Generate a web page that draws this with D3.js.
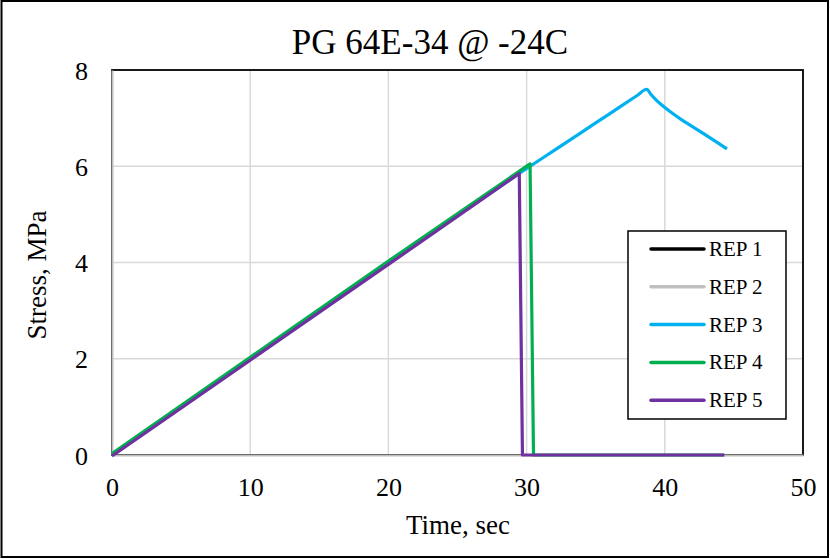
<!DOCTYPE html>
<html>
<head>
<meta charset="utf-8">
<script src="https://cdn.jsdelivr.net/npm/d3@7"></script>
<style>
  html, body { margin: 0; padding: 0; background: #fff; }
  svg { display: block; }
  text { font-family: "Liberation Serif", "Times New Roman", serif; fill: #000; }
</style>
</head>
<body>
<svg id="chart" width="830" height="559"></svg>
<script>
// ---- Data ----
const title = "PG 64E-34 @ -24C";
const xLabel = "Time, sec";
const yLabel = "Stress, MPa";
const xTicks = [0, 10, 20, 30, 40, 50];
const yTicks = [0, 2, 4, 6, 8];
const seriesNames = ["REP 1", "REP 2", "REP 3", "REP 4", "REP 5"];
const seriesColors = ["#000000", "#bfbfbf", "#00b0f0", "#00b050", "#7030a0"];

const rep1 = [];
const rep2 = [];
const rep3 = [[0, 0], [5, 0.99], [10, 1.99], [15, 2.98], [20, 3.98], [25, 4.97], [30.2, 5.99],
  [32, 6.33], [34, 6.71], [36, 7.09], [38, 7.47], [38.7, 7.6],
  [39.0, 7.49], [39.4, 7.37], [40.0, 7.22], [40.6, 7.09], [41.2, 6.97], [41.8, 6.86],
  [42.4, 6.75], [43.0, 6.64], [43.7, 6.51], [44.5, 6.36]];
const rep4 = [[0, 0.03], [10, 2.03], [20, 4.03], [30.25, 6.05], [30.5, 0], [44.3, 0]];
const rep5 = [[0, -0.02], [10, 1.97], [20, 3.96], [29.47, 5.85], [29.7, 0], [44.3, 0]];
const seriesData = [rep1, rep2, rep3, rep4, rep5];

// ---- Layout ----
const svg = d3.select("#chart");
const plot = { left: 112, right: 803, top: 70, bottom: 455 };

const x = d3.scaleLinear().domain([0, 50]).range([plot.left, plot.right]);
const y = d3.scaleLinear().domain([0, 8]).range([plot.bottom, plot.top]);

// outer border
svg.append("rect").attr("x", 1.5).attr("y", 1).attr("width", 826.5).attr("height", 556)
  .attr("fill", "#fff").attr("stroke", "#000").attr("stroke-width", 2);

// gridlines
svg.append("g").selectAll("line").data(xTicks.slice(1, -1)).join("line")
  .attr("x1", d => x(d)).attr("x2", d => x(d))
  .attr("y1", plot.top).attr("y2", plot.bottom)
  .attr("stroke", "#d9d9d9").attr("stroke-width", 1.5);
svg.append("g").selectAll("line").data(yTicks.slice(1, -1)).join("line")
  .attr("x1", plot.left).attr("x2", plot.right)
  .attr("y1", d => y(d)).attr("y2", d => y(d))
  .attr("stroke", "#d9d9d9").attr("stroke-width", 1.5);

// plot border
svg.append("rect").attr("x", plot.left).attr("y", plot.top)
  .attr("width", plot.right - plot.left).attr("height", plot.bottom - plot.top)
  .attr("fill", "none").attr("stroke", "#000").attr("stroke-width", 1.8);

// axes
const xAxis = svg.append("g").attr("transform", `translate(0,${plot.bottom})`)
  .call(d3.axisBottom(x).tickValues(xTicks).tickSize(0).tickPadding(0).tickFormat(d3.format("d")));
xAxis.select(".domain").attr("stroke", "#bfbfbf").attr("stroke-width", 2);
xAxis.selectAll("text").attr("font-size", 26).attr("dy", null).attr("y", 41)
  .style("font-family", '"Liberation Serif", serif');

const yAxis = svg.append("g").attr("transform", `translate(${plot.left},0)`)
  .call(d3.axisLeft(y).tickValues(yTicks).tickSize(0).tickPadding(0).tickFormat(d3.format("d")));
yAxis.select(".domain").attr("stroke", "#bfbfbf").attr("stroke-width", 2);
yAxis.selectAll("text").attr("font-size", 26).attr("x", -24).attr("dy", "0.35em")
  .style("font-family", '"Liberation Serif", serif');

// series
const lineStraight = d3.line().x(d => x(d[0])).y(d => y(d[1]));
const lineSmooth = d3.line().x(d => x(d[0])).y(d => y(d[1])).curve(d3.curveMonotoneX);
seriesData.forEach((data, i) => {
  if (!data.length) return;
  svg.append("path").datum(data)
    .attr("d", i === 2 ? lineSmooth : lineStraight)
    .attr("fill", "none")
    .attr("stroke", seriesColors[i])
    .attr("stroke-width", 3.2)
    .attr("stroke-linejoin", "round");
});

// titles
svg.append("text").attr("x", 430).attr("y", 54).attr("text-anchor", "middle")
  .attr("font-size", 35).text(title);
svg.append("text").attr("x", 458).attr("y", 534).attr("text-anchor", "middle")
  .attr("font-size", 27).text(xLabel);
svg.append("text").attr("transform", "translate(46,275) rotate(-90)")
  .attr("text-anchor", "middle").attr("font-size", 27).text(yLabel);

// legend
const lg = svg.append("g");
lg.append("rect").attr("x", 628).attr("y", 231).attr("width", 158).attr("height", 188)
  .attr("fill", "#fff").attr("stroke", "#000").attr("stroke-width", 1.5);
seriesNames.forEach((name, i) => {
  const yy = 249 + i * 37.8;
  lg.append("line").attr("x1", 651).attr("x2", 704).attr("y1", yy).attr("y2", yy)
    .attr("stroke", seriesColors[i]).attr("stroke-width", 3.5).attr("stroke-linecap", "round");
  lg.append("text").attr("x", 709).attr("y", yy + 7).attr("font-size", 21).text(name);
});
</script>
</body>
</html>
